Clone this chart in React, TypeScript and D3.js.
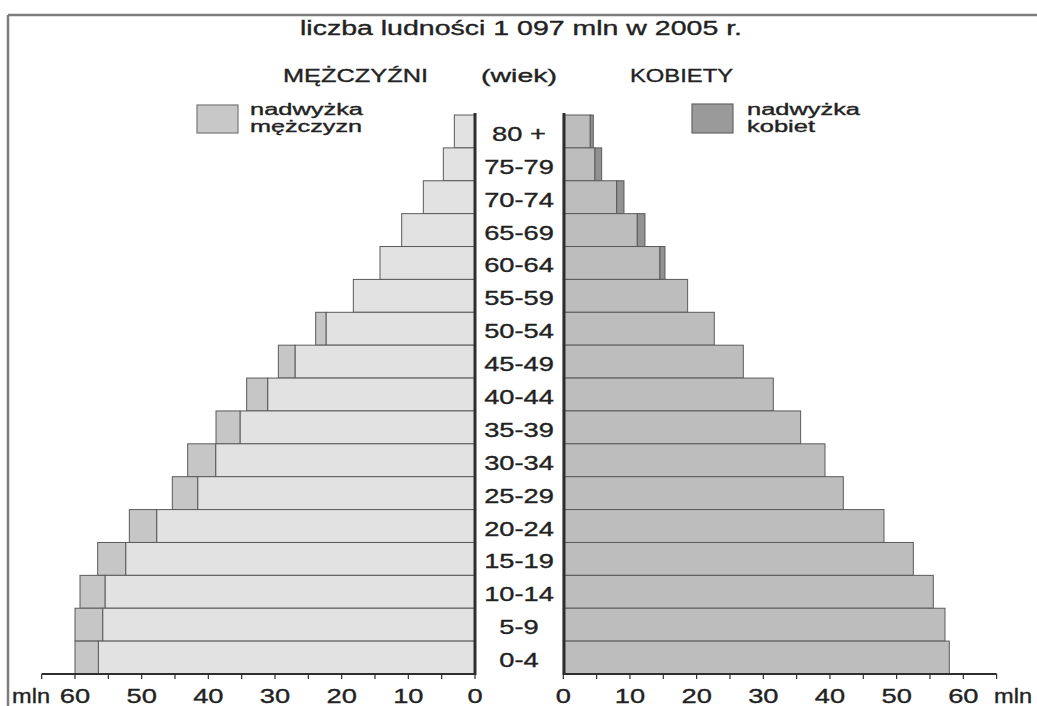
import React from 'react';
import * as d3 from 'd3';

// age groups, top of the pyramid first
const ageGroups = ['80+', '75-79', '70-74', '65-69', '60-64', '55-59', '50-54', '45-49', '40-44',
  '35-39', '30-34', '25-29', '20-24', '15-19', '10-14', '5-9', '0-4'];

// mln
const menTotal = [3.1, 4.75, 7.75, 11.0, 14.25, 18.25, 23.9, 29.5, 34.25, 38.85, 43.1, 45.4, 51.85, 56.6, 59.25, 60.0, 60.0];
const menSurplus = [0, 0, 0, 0, 0, 0, 1.55, 2.5, 3.15, 3.6, 4.2, 3.8, 4.1, 4.2, 3.75, 4.15, 3.5];
const womenTotal = [4.5, 5.75, 9.1, 12.25, 15.25, 18.65, 22.65, 27.0, 31.5, 35.6, 39.25, 42.0, 48.1, 52.5, 55.5, 57.25, 57.9];
const womenSurplus = [0.45, 1.0, 1.1, 1.15, 0.75, 0, 0, 0, 0, 0, 0, 0, 0, 0, 0, 0, 0];

const axisTicks = d3.range(0, 66, 5);
const axisLabels = [0, 10, 20, 30, 40, 50, 60];

const W = 1037;
const H = 706;
const FONT = '"Liberation Sans", Arial, sans-serif';
const INK = '#222';

// text squeezed/stretched to the width it has in the picture
const Txt: React.FC<{ x: number; y: number; w: number; size: number; anchor?: 'start' | 'middle' | 'end'; children: string }> = ({ x, y, w, size, anchor = 'start', children }) => (
  <text x={x} y={y} fontSize={size} fontFamily={FONT} fill={INK} stroke={INK} strokeWidth={0.35}
    textAnchor={anchor} textLength={w} lengthAdjust="spacingAndGlyphs">{children}</text>
);

export default function App() {
  const xL = d3.scaleLinear().domain([0, 65]).range([475, 475 - 65 * 400 / 60]);
  const xR = d3.scaleLinear().domain([0, 65]).range([563.3, 563.3 + 65 * 400 / 60]);
  const y = d3.scaleBand<string>().domain(ageGroups).range([115, 674]).paddingInner(0);
  const bh = y.bandwidth();
  const baseY = 674;

  const barStroke = '#5a5a5a';

  return (
    <svg width={W} height={H} style={{ position: 'absolute', left: 0, top: 0, background: '#fff' }}>
      {/* frame */}
      <line x1={8} x2={W} y1={15} y2={15} stroke="#7d7d7d" strokeWidth={2.5} />
      <line x1={8} x2={8} y1={15} y2={H} stroke="#7d7d7d" strokeWidth={2.5} />

      <Txt x={521} y={35} w={442} size={20} anchor="middle">liczba ludności 1 097 mln w 2005 r.</Txt>
      <Txt x={355.5} y={82} w={145} size={19} anchor="middle">MĘŻCZYŹNI</Txt>
      <Txt x={519} y={82} w={76} size={19} anchor="middle">(wiek)</Txt>
      <Txt x={681.5} y={82} w={103} size={19} anchor="middle">KOBIETY</Txt>

      {/* legend */}
      <rect x={197} y={105} width={41} height={28} fill="#c8c8c8" stroke="#777" strokeWidth={1.2} />
      <Txt x={250} y={115} w={113} size={16}>nadwyżka</Txt>
      <Txt x={250} y={132} w={112} size={16}>mężczyzn</Txt>
      <rect x={692} y={104} width={41} height={29} fill="#9a9a9a" stroke="#666" strokeWidth={1.2} />
      <Txt x={747} y={115} w={113} size={16}>nadwyżka</Txt>
      <Txt x={747} y={132} w={68} size={16}>kobiet</Txt>

      {/* men */}
      {ageGroups.map((a, i) => {
        const y0 = y(a)!;
        const inner = menTotal[i] - menSurplus[i];
        return (
          <g key={'m' + a}>
            <rect x={xL(inner)} y={y0} width={xL(0) - xL(inner)} height={bh} fill="#e2e2e2" stroke={barStroke} strokeWidth={1} />
            {menSurplus[i] > 0 && (
              <rect x={xL(menTotal[i])} y={y0} width={xL(inner) - xL(menTotal[i])} height={bh} fill="#c6c6c6" stroke={barStroke} strokeWidth={1} />
            )}
          </g>
        );
      })}

      {/* women */}
      {ageGroups.map((a, i) => {
        const y0 = y(a)!;
        const inner = womenTotal[i] - womenSurplus[i];
        return (
          <g key={'f' + a}>
            <rect x={xR(0)} y={y0} width={xR(inner) - xR(0)} height={bh} fill="#bdbdbd" stroke={barStroke} strokeWidth={1} />
            {womenSurplus[i] > 0 && (
              <rect x={xR(inner)} y={y0} width={xR(womenTotal[i]) - xR(inner)} height={bh} fill="#929292" stroke={barStroke} strokeWidth={1} />
            )}
          </g>
        );
      })}

      {/* age labels */}
      {ageGroups.map(a => (
        <text key={'l' + a} transform={`translate(519,${y(a)! + bh / 2 + 9.5}) scale(1.33,1)`}
          fontSize={20.5} fontFamily={FONT} fill={INK} stroke={INK} strokeWidth={0.35}
          textAnchor="middle">{a === '80+' ? '80 +' : a}</text>
      ))}

      {/* centre lines */}
      <line x1={475} x2={475} y1={113} y2={baseY + 1} stroke="#2e2e2e" strokeWidth={3} />
      <line x1={564} x2={564} y1={113} y2={baseY + 1} stroke="#2e2e2e" strokeWidth={3} />

      {/* axes */}
      <line x1={xL(65)} x2={xL(0)} y1={baseY} y2={baseY} stroke="#2e2e2e" strokeWidth={2} />
      <line x1={xR(0)} x2={xR(65)} y1={baseY} y2={baseY} stroke="#2e2e2e" strokeWidth={2} />
      {axisTicks.map(t => (
        <g key={'t' + t}>
          <line x1={xL(t)} x2={xL(t)} y1={baseY} y2={baseY + 5} stroke="#2e2e2e" strokeWidth={1.2} />
          <line x1={xR(t)} x2={xR(t)} y1={baseY} y2={baseY + 5} stroke="#2e2e2e" strokeWidth={1.2} />
        </g>
      ))}
      {axisLabels.map(t => (
        <g key={'a' + t}>
          <text transform={`translate(${xL(t)},703) scale(1.3,1)`} fontSize={21} fontFamily={FONT} fill={INK}
            stroke={INK} strokeWidth={0.35} textAnchor="middle">{t}</text>
          <text transform={`translate(${xR(t)},703) scale(1.3,1)`} fontSize={21} fontFamily={FONT} fill={INK}
            stroke={INK} strokeWidth={0.35} textAnchor="middle">{t}</text>
        </g>
      ))}
      <Txt x={12} y={703} w={38} size={21}>mln</Txt>
      <Txt x={994} y={703} w={38} size={21}>mln</Txt>
    </svg>
  );
}
